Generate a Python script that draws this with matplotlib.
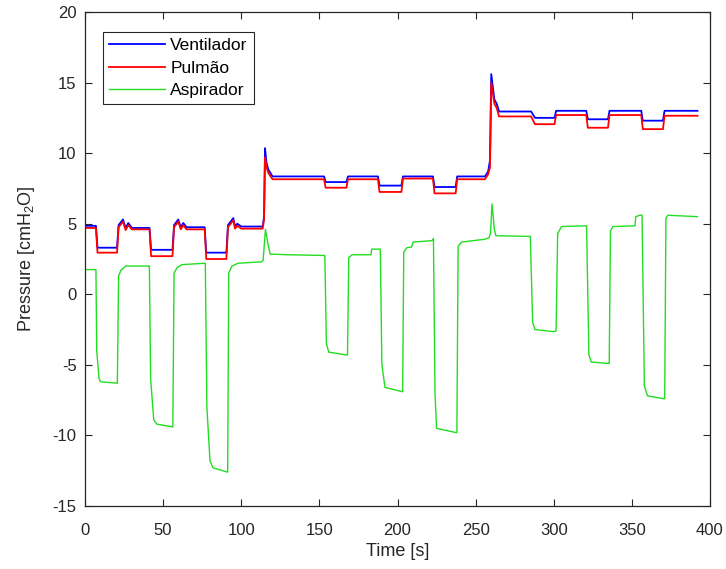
import matplotlib
matplotlib.use("Agg")
import matplotlib.pyplot as plt

plt.rcParams["font.family"] = ["Liberation Sans", "DejaVu Sans"]
plt.rcParams["mathtext.fontset"] = "custom"
plt.rcParams["mathtext.rm"] = "Liberation Sans"
plt.rcParams["mathtext.default"] = "regular"
plt.rcParams["axes.unicode_minus"] = False

# breakpoints (time in s, pressure in cmH2O)
vent_t = [0, 7.0, 8.0, 20.5, 21.5, 24.3, 26.0, 27.7, 30.0, 41.3, 42.3,
          56.0, 57.0, 59.7, 61.3, 62.9, 65.0, 76.6, 77.6, 90.5, 91.5,
          94.9, 96.0, 97.5, 100.0, 113.7, 114.6, 115.2, 116.2, 117.3, 120.0,
          153.0, 154.0, 167.3, 168.3, 187.5, 188.5, 202.5, 203.5, 222.7,
          223.7, 237.2, 238.2, 256.0, 258.0, 259.2, 260.0, 262.0, 263.5,
          265.0, 285.5, 288.0, 300.5, 301.5, 320.8, 321.8, 334.7, 335.7,
          356.0, 357.0, 369.9, 370.9, 392.0]
vent_p = [4.85, 4.85, 3.3, 3.3, 4.9, 5.3, 4.7, 5.05, 4.7, 4.7, 3.15,
          3.15, 4.9, 5.3, 4.75, 5.05, 4.75, 4.75, 2.95, 2.95, 4.9,
          5.4, 4.8, 5.0, 4.8, 4.8, 5.5, 10.35, 9.3, 8.85, 8.35,
          8.35, 7.95, 7.95, 8.35, 8.35, 7.7, 7.7, 8.35, 8.35,
          7.6, 7.6, 8.35, 8.35, 8.7, 9.5, 15.6, 13.8, 13.5,
          12.95, 12.95, 12.5, 12.5, 13.0, 13.0, 12.4, 12.4, 13.0,
          13.0, 12.3, 12.3, 13.0, 13.0]

pulm_t = vent_t
pulm_p = [4.7, 4.7, 2.95, 2.95, 4.75, 5.15, 4.55, 4.9, 4.6, 4.6, 2.7,
          2.7, 4.75, 5.15, 4.6, 4.9, 4.6, 4.6, 2.5, 2.5, 4.75,
          5.25, 4.65, 4.85, 4.65, 4.65, 5.3, 9.7, 9.0, 8.6, 8.15,
          8.15, 7.55, 7.55, 8.15, 8.15, 7.25, 7.25, 8.2, 8.2,
          7.15, 7.15, 8.15, 8.15, 8.5, 9.0, 15.0, 13.5, 13.2,
          12.6, 12.6, 12.05, 12.05, 12.7, 12.7, 11.8, 11.8, 12.7,
          12.7, 11.7, 11.7, 12.65, 12.65]

asp_t = [0, 7.0, 7.5, 9.0, 10.0, 20.7, 21.5, 23.0, 26.0, 41.0,
         41.2, 42.0, 44.0, 46.0, 56.2, 57.0, 59.0, 62.0, 76.8,
         77.0, 78.0, 80.0, 82.0, 91.3, 92.0, 94.0, 98.0, 113.0,
         114.0, 115.5, 117.0, 118.5, 130.0, 153.0,
         153.5, 154.5, 156.0, 167.5, 168.0, 168.8, 171.0, 183.0, 183.5, 188.0,
         189.0, 190.0, 192.0, 203.0, 203.3, 204.0, 206.0, 209.0, 210.0,
         222.0, 223.0, 224.0, 225.0, 237.5, 238.0, 238.8, 241.0, 256.0,
         258.5, 259.5, 260.5, 262.0, 263.0, 285.0,
         286.5, 288.0, 300.0, 301.5, 302.5, 305.0, 320.0,
         321.0, 322.5, 324.0, 335.0, 335.5, 336.3, 338.0, 352.0, 352.5, 355.0,
         356.5, 358.0, 360.0, 370.5, 371.0, 371.8, 373.0, 392.0]
asp_p = [1.75, 1.75, -4.0, -6.0, -6.2, -6.3, 1.3, 1.7, 2.0, 2.0,
         2.0, -6.0, -8.9, -9.2, -9.4, 1.5, 1.9, 2.1, 2.2,
         2.2, -8.0, -11.8, -12.3, -12.6, 1.5, 2.0, 2.2, 2.3,
         2.4, 4.6, 3.6, 2.85, 2.8, 2.75,
         2.75, -3.5, -4.1, -4.3, -4.3, 2.6, 2.8, 2.8, 3.2, 3.2,
         3.2, -5.0, -6.6, -6.9, -6.9, 3.0, 3.3, 3.35, 3.7,
         3.8, 3.95, -7.0, -9.5, -9.8, -9.8, 3.4, 3.7, 3.9,
         4.0, 4.3, 6.4, 4.6, 4.15, 4.1,
         -2.0, -2.5, -2.65, -2.6, 4.3, 4.8, 4.85,
         4.85, -4.3, -4.8, -4.9, -4.9, 4.5, 4.8, 4.85, 5.5, 5.6,
         5.6, -6.5, -7.2, -7.4, -7.4, 5.4, 5.6, 5.5]

x_ticks = [0, 50, 100, 150, 200, 250, 300, 350, 400]
y_ticks = [-15, -10, -5, 0, 5, 10, 15, 20]

ink = "#262626"

fig = plt.figure(figsize=(7.26, 5.69), dpi=100)
ax = fig.add_axes([85 / 726, 1 - 506 / 569, 625 / 726, 494 / 569])

ax.plot(vent_t, vent_p, color="#0000ff", lw=1.3, label="Ventilador")
ax.plot(pulm_t, pulm_p, color="#ff0000", lw=1.3, label="Pulmão")
ax.plot(asp_t, asp_p, color="#22dd22", lw=1.0, label="Aspirador")

ax.set_xlim(0, 400)
ax.set_ylim(-15, 20)
ax.set_xticks(x_ticks)
ax.set_yticks(y_ticks)
ax.tick_params(direction="in", top=True, right=True, length=5, width=0.8,
               colors=ink, labelsize=12, pad=6)
ax.tick_params(axis="x", pad=12)
for s in ax.spines.values():
    s.set_color(ink)
    s.set_linewidth(0.9)

ax.set_xlabel("Time [s]", fontsize=13, color=ink, labelpad=4)
ax.set_ylabel("Pressure [cmH$_2$O]", fontsize=13, color=ink, labelpad=11)

leg = ax.legend(loc="upper left", bbox_to_anchor=(0.0288, 0.9595),
                borderaxespad=0, fontsize=12.5,
                fancybox=False, framealpha=1, edgecolor=ink,
                handlelength=3.2, handletextpad=0.33, borderpad=0.35,
                labelspacing=0.42)
leg.get_frame().set_linewidth(0.8)

fig.savefig("out.png", dpi=100)
